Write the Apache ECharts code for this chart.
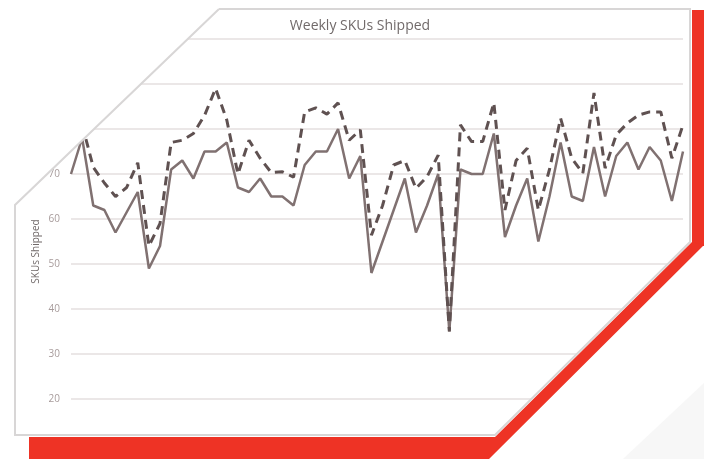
<!DOCTYPE html>
<html>
<head>
<meta charset="utf-8">
<script src="https://cdn.jsdelivr.net/npm/echarts@6/dist/echarts.min.js"></script>
<style>
html,body{margin:0;padding:0;background:#ffffff;}
#chart{width:704px;height:459px;}
</style>
</head>
<body>
<div id="chart"></div>
<script>
// ---- data ----
const chartTitle = "Weekly SKUs Shipped";
const yAxisName = "SKUs Shipped";
const weeks = ["1","2","3","4","5","6","7","8","9","10","11","12","13","14","15","16","17","18","19","20",
  "21","22","23","24","25","26","27","28","29","30","31","32","33","34","35","36","37","38","39","40",
  "41","42","43","44","45","46","47","48","49","50","51","52","53","54","55","56"];
const shipped = [70,78,63,62,57,61.5,66,49,54,71,73,69,75,75,77,67,66,69,65,65,
  63,72,75,75,80,69,74,48,55,62,69,57,63,70,35,71,70,70,79,56,
  63,69,55,65,77,65,64,76,65,74,77,71,76,73,64,75];
const target = [null,81,71.5,68,65,67,72.5,54,59,77,77.5,79,83,89,82,70,77.5,73.5,70.3,70.5,
  69.3,83.8,84.7,83.3,85.8,77.5,79.8,56.4,63,72,73,66.8,69.4,74.2,35,80.9,77.2,77.2,85.8,62,
  73,75.7,62,71,82.4,73.5,70.2,88,71.3,78.7,81.3,83.1,83.8,83.8,73.5,80.9];
const yMin = 10, yMax = 100, yStep = 10;

const chart = echarts.init(document.getElementById('chart'), null, {renderer: 'canvas'});
const FONT = '"Open Sans", "Noto Sans", sans-serif';
const RED = '#ee3325';
const BORDER = '#d8d6d6';

const option = {
  backgroundColor: '#ffffff',
  animation: false,
  title: {
    text: chartTitle,
    left: 355, top: 14, textAlign: 'center',
    textStyle: {fontFamily: FONT, fontSize: 14, fontWeight: 'normal', color: '#716a6a'}
  },
  grid: {left: 71, right: 21, top: 39, bottom: 15, containLabel: false},
  xAxis: {
    type: 'category', data: weeks, boundaryGap: false,
    axisLine: {show: false}, axisTick: {show: false}, axisLabel: {show: false},
    splitLine: {show: false}
  },
  yAxis: {
    type: 'value', min: yMin, max: yMax, interval: yStep,
    name: yAxisName, nameLocation: 'middle', nameGap: 30, nameRotate: 90,
    nameMoveOverlap: false,
    nameTextStyle: {fontFamily: FONT, fontSize: 10, color: '#716a6a', padding: [0, 20, 0, 0]},
    axisLine: {show: false}, axisTick: {show: false},
    axisLabel: {fontFamily: FONT, fontSize: 10, color: '#a79b9b', margin: 11},
    splitLine: {lineStyle: {color: '#e4dfdf', width: 1.5}}
  },
  series: [
    {
      name: 'Shipped', type: 'line', data: shipped, symbol: 'none', connectNulls: false,
      lineStyle: {color: '#807171', width: 2.5, type: 'solid'}, z: 3
    },
    {
      name: 'Target', type: 'line', data: target, symbol: 'none', connectNulls: false,
      lineStyle: {color: '#5f5151', width: 3, type: [9, 6]}, z: 4
    }
  ],
  graphic: {
    elements: [
      // masks outside the card
      {type: 'polygon', zlevel: 1, z: 100, silent: true,
        shape: {points: [[0,0],[219,0],[219,9],[15,205],[15,459],[0,459]]},
        style: {fill: '#ffffff'}},
      {type: 'rect', zlevel: 1, z: 100, silent: true,
        shape: {x: 219, y: 0, width: 485, height: 9},
        style: {fill: '#ffffff'}},
      {type: 'polygon', zlevel: 1, z: 100, silent: true,
        shape: {points: [[690,9],[704,9],[704,459],[495,459],[495,435],[690,242]]},
        style: {fill: '#ffffff'}},
      {type: 'rect', zlevel: 1, z: 100, silent: true,
        shape: {x: 0, y: 435, width: 704, height: 24},
        style: {fill: '#ffffff'}},
      // faint corner shape
      {type: 'polygon', zlevel: 1, z: 101, silent: true,
        shape: {points: [[704,383],[704,459],[623,459]]},
        style: {fill: '#f7f7f7'}},
      // red frame
      {type: 'polygon', zlevel: 1, z: 110, silent: true,
        shape: {points: [[692,10],[704,10],[704,246],[692,246]]},
        style: {fill: RED}},
      {type: 'polygon', zlevel: 1, z: 110, silent: true,
        shape: {points: [[692,242],[704,245],[489,459],[29,459],[29,437],[495,437]]},
        style: {fill: RED}},
      // card border
      {type: 'polyline', zlevel: 1, z: 111, silent: true,
        shape: {points: [[219,9],[690,9],[690,242],[495,435],[15,435],[15,205],[219,9]]},
        style: {stroke: BORDER, lineWidth: 2, fill: null}}
    ]
  }
};
chart.setOption(option);
</script>
</body>
</html>
